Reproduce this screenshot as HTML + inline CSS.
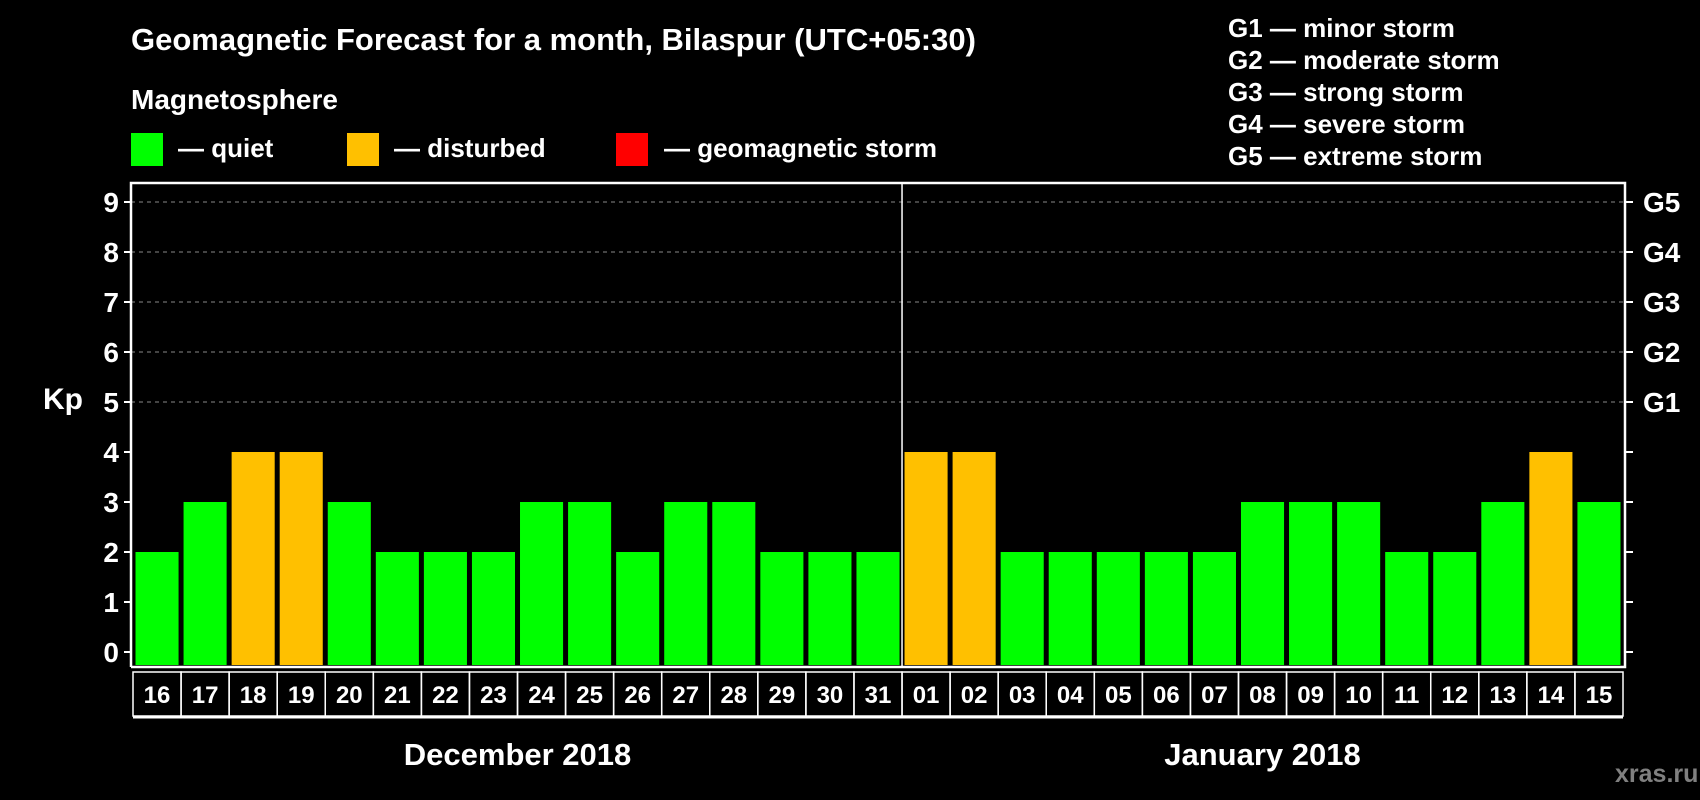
<!DOCTYPE html>
<html><head><meta charset="utf-8"><style>
body{margin:0;background:#000;width:1700px;height:800px;overflow:hidden}
svg{display:block}
text{font-family:"Liberation Sans",Arial,sans-serif;font-weight:bold;fill:#fff}
</style></head><body>
<svg id="c" width="1700" height="800">
<text x="131" y="50" font-size="31">Geomagnetic Forecast for a month, Bilaspur (UTC+05:30)</text>
<text x="131" y="109" font-size="28">Magnetosphere</text>
<rect x="131" y="133" width="32" height="33" fill="#00ff00"/>
<text x="178" y="157" font-size="26">— quiet</text>
<rect x="347" y="133" width="32" height="33" fill="#ffc000"/>
<text x="394" y="157" font-size="26">— disturbed</text>
<rect x="616" y="133" width="32" height="33" fill="#ff0000"/>
<text x="664" y="157" font-size="26">— geomagnetic storm</text>
<g font-size="26">
<text x="1228" y="37">G1 — minor storm</text>
<text x="1228" y="69">G2 — moderate storm</text>
<text x="1228" y="101">G3 — strong storm</text>
<text x="1228" y="133">G4 — severe storm</text>
<text x="1228" y="165">G5 — extreme storm</text>
</g>
<text x="43" y="409" font-size="30">Kp</text>
<text x="1615" y="782" font-size="25" style="fill:#808080">xras.ru</text>
<g id="plot"></g>
</svg>
<script>
const days=["16","17","18","19","20","21","22","23","24","25","26","27","28","29","30","31","01","02","03","04","05","06","07","08","09","10","11","12","13","14","15"];
const kp=[2,3,4,4,3,2,2,2,3,3,2,3,3,2,2,2,4,4,2,2,2,2,2,3,3,3,2,2,3,4,3];
const yTicks=[0,1,2,3,4,5,6,7,8,9];
const gLabels=["G1","G2","G3","G4","G5"];
const months=["December 2018","January 2018"];
const NS="http://www.w3.org/2000/svg";
const g=document.getElementById('plot');
const L=131,R=1625,T=183,B=667,X0=133,X1=1623;
const y=v=>652-v*50;
const pitch=(X1-X0)/days.length;
const x=i=>X0+i*pitch;
function mk(t,a,txt){const e=document.createElementNS(NS,t);for(const k in a)e.setAttribute(k,a[k]);if(txt!==undefined)e.textContent=txt;g.appendChild(e);return e;}
yTicks.forEach(v=>{
 if(v>=5){const e=mk('line',{x1:L,x2:R,y1:y(v),y2:y(v),stroke:'#888','stroke-dasharray':'4,4','stroke-width':1});
 
 }
 const tl=mk('line',{x1:L-7,x2:L,y1:y(v),y2:y(v),stroke:'#fff','stroke-width':2});
 
 
 const tr=mk('line',{x1:R,x2:R+8,y1:y(v),y2:y(v),stroke:'#fff','stroke-width':2});
 
 
 const t=mk('text',{x:L-12,y:y(v)+10,'font-size':28,'text-anchor':'end'},String(v));
 
 
});
gLabels.forEach((s,i)=>{
 const t=mk('text',{x:1643,y:y(5+i)+10,'font-size':28},s);
 
 
});
kp.forEach((v,i)=>{
 const b=mk('rect',{x:x(i)+2.5,y:y(v),width:pitch-5,height:y(0)-y(v)+13,fill:v>=5?'#ff0000':(v>=4?'#ffc000':'#00ff00')});
 
 
 const c=mk('rect',{x:x(i),y:672,width:pitch,height:44,fill:'none',stroke:'#fff','stroke-width':1.5});
 
 
 const t=mk('text',{x:x(i)+pitch/2,y:703,'font-size':24,'text-anchor':'middle'},days[i]);
 
 
});
const bl=mk('line',{x1:X0,x2:X1,y1:717,y2:717,stroke:'#fff','stroke-width':3});


const f=mk('path',{d:`M${L},${B}L${L},${T}L${R},${T}L${R},${B}L${L},${B}`,fill:'none',stroke:'#fff','stroke-width':2.5});


const split=days.indexOf("01");
const d=mk('line',{x1:x(split),x2:x(split),y1:T,y2:B,stroke:'#fff','stroke-width':1.5});


const m1=mk('text',{x:(x(0)+x(split))/2,y:765,'font-size':31,'text-anchor':'middle'},months[0]);


const m2=mk('text',{x:(x(split)+x(days.length))/2,y:765,'font-size':31,'text-anchor':'middle'},months[1]);


</script>
</body></html>
